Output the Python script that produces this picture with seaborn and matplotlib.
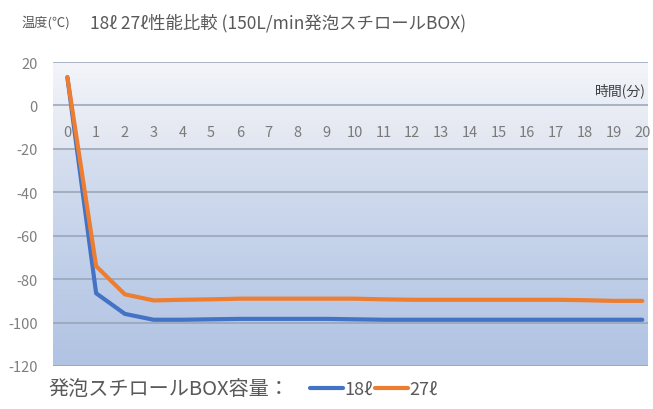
import numpy as np
import pandas as pd
import matplotlib
matplotlib.use("Agg")
import matplotlib.pyplot as plt
import seaborn as sns
from matplotlib.colors import LinearSegmentedColormap
from matplotlib.lines import Line2D

# Elapsed time (minutes) and measured temperatures (°C)
minutes = list(range(21))
temp_18l = [13, -86.5, -96, -98.7, -98.7, -98.5, -98.3, -98.3, -98.3, -98.3, -98.5,
            -98.7, -98.7, -98.7, -98.7, -98.7, -98.7, -98.7, -98.7, -98.7, -98.7]
temp_27l = [13, -74, -87, -89.8, -89.5, -89.3, -89.0, -89.0, -89.0, -89.0, -89.0,
            -89.3, -89.5, -89.5, -89.5, -89.5, -89.5, -89.5, -89.7, -90.0, -90.0]
series_names = ["18ℓ", "27ℓ"]
series_colors = ["#4472C4", "#ED7D31"]
y_ticks = [20, 0, -20, -40, -60, -80, -100, -120]

sns.set_theme(style="white")
plt.rcParams["font.family"] = ["Noto Sans CJK JP", "DejaVu Sans"]
plt.rcParams["axes.unicode_minus"] = False

df = pd.DataFrame({
    "分": minutes * 2,
    "温度": temp_18l + temp_27l,
    "容量": [series_names[0]] * len(minutes) + [series_names[1]] * len(minutes),
})

W, H = 653, 410
fig = plt.figure(figsize=(W / 100, H / 100), dpi=100)
fig.patch.set_facecolor("white")
ax = fig.add_axes([53 / W, 1 - 367 / H, (648 - 53) / W, (367 - 63) / H])

x0, x1 = -0.5, 20.2
ylo, yhi = y_ticks[-1], y_ticks[0]

# vertical gradient fill of the plot area
bg = LinearSegmentedColormap.from_list(
    "bg", [(0.0, "#f3f5fa"), (0.15, "#e8ecf5"), (0.3, "#d6dfef"),
           (0.6, "#c4d2ea"), (1.0, "#b1c3e3")])
grad = np.linspace(0, 1, 256).reshape(-1, 1)
ax.imshow(grad, cmap=bg, aspect="auto", extent=(x0, x1, ylo, yhi),
          origin="upper", zorder=0)
# light band behind the category labels
ax.axhspan(-20, 0, color="#eceef3", alpha=0.45, lw=0, zorder=0.5)

sns.lineplot(data=df, x="分", y="温度", hue="容量", palette=series_colors,
             linewidth=3, ax=ax, legend=False, zorder=3,
             solid_capstyle="round", solid_joinstyle="round")

ax.set_xlim(x0, x1)
ax.set_ylim(ylo, yhi)
ax.set_xticks(minutes)
ax.set_yticks(y_ticks)
ax.set_xlabel("")
ax.set_ylabel("")
ax.grid(axis="y", color="#97a2b5", linewidth=1.1)
ax.grid(axis="x", visible=False)
for s in ["left", "right", "top"]:
    ax.spines[s].set_visible(False)
ax.spines["bottom"].set_position(("data", 0))
ax.spines["bottom"].set_visible(False)
ax.tick_params(axis="x", length=0, pad=14, labelsize=10.5, labelcolor="#7a7a7a")
ax.tick_params(axis="y", length=0, pad=11, labelsize=10.5, labelcolor="#7f7f7f")

ax.text(0.997, 0.91, "時間(分)", transform=ax.transAxes, ha="right", va="center",
        fontsize=10, color="#404040")

fig.text(22 / W, 1 - 23 / H, "温度(℃)", fontsize=9.5, color="#595959", va="center")
fig.text(90 / W, 1 - 23 / H, "18ℓ 27ℓ性能比較 (150L/min発泡スチロールBOX)",
         fontsize=12.5, color="#595959", va="center")

fig.text(48 / W, 1 - 390 / H, "発泡スチロールBOX容量：", fontsize=14.5,
         color="#595959", va="center")
handles = [Line2D([0], [0], color=c, lw=3) for c in series_colors]
ax.legend(handles, series_names, ncol=2, loc="center left",
          bbox_to_anchor=(310 / W, 1 - 390 / H), bbox_transform=fig.transFigure,
          frameon=False, handlelength=1.8, handletextpad=0.1, columnspacing=0.15,
          fontsize=13, labelcolor="#595959", borderaxespad=0, borderpad=0)

fig.savefig("out.png", dpi=100)
